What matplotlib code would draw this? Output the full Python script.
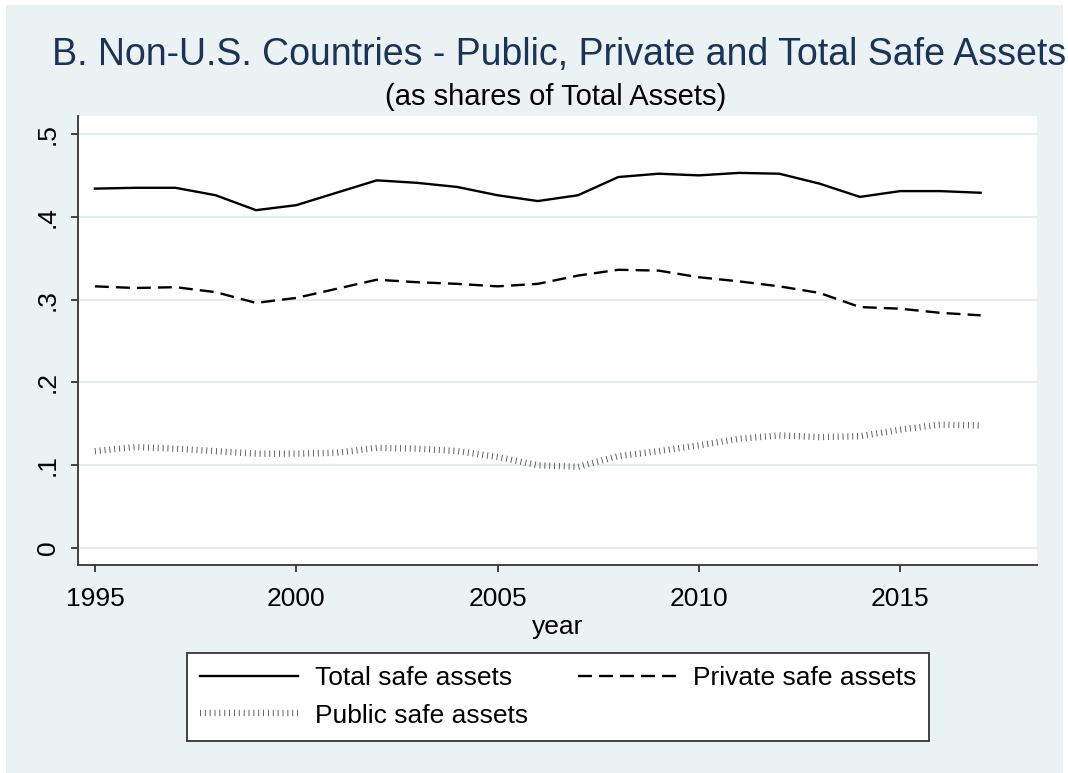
import matplotlib
matplotlib.use("Agg")
import matplotlib.pyplot as plt
from matplotlib.patches import Rectangle

plt.rcParams['font.family'] = ['Liberation Sans', 'DejaVu Sans']

years = list(range(1995, 2018))
total_safe = [0.434, 0.435, 0.435, 0.426, 0.408, 0.414, 0.429, 0.444, 0.441, 0.436,
              0.426, 0.419, 0.426, 0.448, 0.452, 0.450, 0.453, 0.452, 0.440, 0.424,
              0.431, 0.431, 0.429]
private_safe = [0.316, 0.314, 0.315, 0.309, 0.296, 0.302, 0.313, 0.324, 0.321, 0.319,
                0.316, 0.319, 0.329, 0.336, 0.335, 0.327, 0.322, 0.316, 0.308, 0.291,
                0.289, 0.284, 0.281]
public_safe = [0.117, 0.122, 0.120, 0.117, 0.114, 0.114, 0.115, 0.121, 0.120, 0.117,
               0.110, 0.100, 0.098, 0.111, 0.117, 0.124, 0.132, 0.136, 0.134, 0.135,
               0.143, 0.149, 0.148]
x_ticks = [1995, 2000, 2005, 2010, 2015]
y_ticks = [0, 0.1, 0.2, 0.3, 0.4, 0.5]
y_tick_labels = ['0', '.1', '.2', '.3', '.4', '.5']

W, H = 1068, 773
fig = plt.figure(figsize=(W / 100, H / 100), dpi=100)
fig.patch.set_facecolor('white')
bg = '#EAF2F3'
fig.patches.append(Rectangle((6 / W, 0), (1063 - 6) / W, 1 - 5 / H,
                             transform=fig.transFigure, facecolor=bg,
                             edgecolor='none', zorder=-10))

ax = fig.add_axes([78 / W, 1 - 565 / H, (1037 - 78) / W, (565 - 116) / H])
ax.set_facecolor('white')
ax.set_xlim(1994.58, 2018.40)
ax.set_ylim(-0.0205, 0.5217)

for yv in y_ticks:
    ax.axhline(yv, color='#E4EEF1', lw=1.6, zorder=0)

ax.plot(years, total_safe, color='black', lw=1.7, solid_joinstyle='miter',
        label='Total safe assets', zorder=3)
ax.plot(years, public_safe, color='#555555', lw=4.6, ls=(0, (0.14, 0.62)),
        dash_capstyle='butt', label='Public safe assets', zorder=3)
ax.plot(years, private_safe, color='black', lw=1.7, ls=(0, (5.9, 3.0)),
        label='Private safe assets', zorder=3)

for s in ['top', 'right']:
    ax.spines[s].set_visible(False)
for s in ['left', 'bottom']:
    ax.spines[s].set_color('#333333')
    ax.spines[s].set_linewidth(1.3)

ax.set_xticks(x_ticks)
ax.set_xticklabels([str(v) for v in x_ticks])
ax.set_yticks(y_ticks)
ax.set_yticklabels(y_tick_labels, rotation=90, va='center')
ax.tick_params(axis='both', direction='out', length=5, width=1.3, color='#333333',
               labelsize=19, labelcolor='black')
ax.tick_params(axis='x', pad=11)
ax.tick_params(axis='y', pad=8)
ax.set_xlabel('year', fontsize=19, labelpad=3)

fig.text(559 / W, 1 - 55 / H, 'B. Non-U.S. Countries - Public, Private and Total Safe Assets',
         ha='center', va='center', fontsize=27, color='#1b3356')
fig.text(556 / W, 1 - 97 / H, '(as shares of Total Assets)',
         ha='center', va='center', fontsize=21, color='black')

leg = fig.legend(loc='center', bbox_to_anchor=(558 / W, 1 - 697 / H), ncol=2,
                 fontsize=19, frameon=True, fancybox=False, edgecolor='#333333',
                 framealpha=1, handlelength=3.7, handletextpad=0.65,
                 columnspacing=1.9, borderpad=0.5, labelspacing=0.5)
leg.get_frame().set_linewidth(1.3)

fig.savefig('out.png', dpi=100, facecolor=fig.get_facecolor())
